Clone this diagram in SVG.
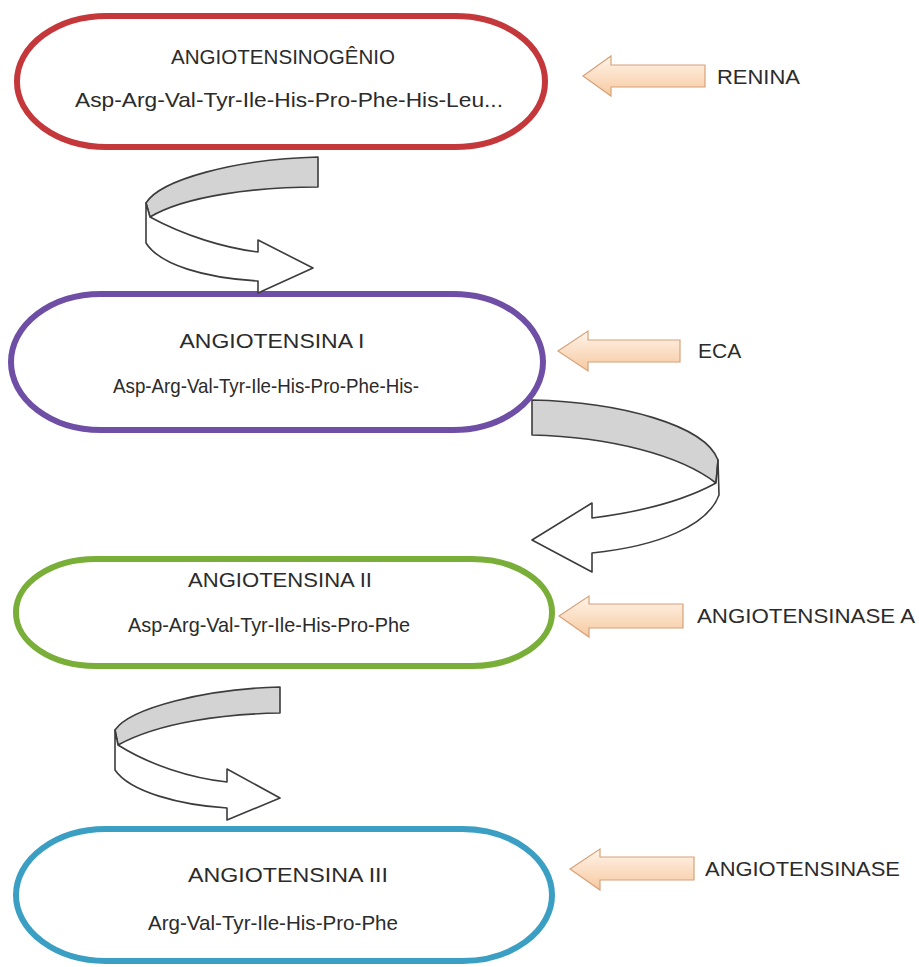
<svg xmlns="http://www.w3.org/2000/svg" width="919" height="967" viewBox="0 0 919 967">
<defs>
<linearGradient id="og" x1="0" y1="0" x2="0" y2="1">
<stop offset="0" stop-color="#fff4ea"/>
<stop offset="1" stop-color="#f7c9a0"/>
</linearGradient>
<style>
.pill{fill:#fff;stroke-width:6}
.t{font-family:"Liberation Sans",Arial,sans-serif;font-size:21px;fill:#2b2b2b;text-anchor:middle}
.lab{font-family:"Liberation Sans",Arial,sans-serif;font-size:21px;fill:#2b2b2b}
.oa{fill:url(#og);stroke:#d6a27a;stroke-width:1.2}
.gray{fill:#d3d3d3;stroke:#3c3c3c;stroke-width:1.6;stroke-linejoin:round}
.wht{fill:#fff;stroke:#3c3c3c;stroke-width:1.6;stroke-linejoin:round}
</style>
</defs>
<rect width="919" height="967" fill="#fff"/>

<g id="node-angiotensinogenio">
<rect class="pill" x="17" y="16" width="528" height="131" rx="90" ry="65" stroke="#c4373b"/>
<text class="t" x="283" y="64" textLength="224" lengthAdjust="spacingAndGlyphs">ANGIOTENSINOGÊNIO</text>
<text class="t" x="289" y="107" textLength="428" lengthAdjust="spacingAndGlyphs">Asp-Arg-Val-Tyr-Ile-His-Pro-Phe-His-Leu...</text>
</g>

<g id="node-angiotensina-1">
<rect class="pill" x="11" y="294" width="532" height="136" rx="90" ry="68" stroke="#6e4fa5"/>
<text class="t" x="272" y="348" textLength="185" lengthAdjust="spacingAndGlyphs">ANGIOTENSINA I</text>
<text class="t" x="266" y="393" textLength="306" lengthAdjust="spacingAndGlyphs">Asp-Arg-Val-Tyr-Ile-His-Pro-Phe-His-</text>
</g>

<g id="node-angiotensina-2">
<rect class="pill" x="16" y="559" width="536" height="107" rx="80" ry="53" stroke="#79ae38"/>
<text class="t" x="280" y="587" textLength="184" lengthAdjust="spacingAndGlyphs">ANGIOTENSINA II</text>
<text class="t" x="269" y="632" textLength="282" lengthAdjust="spacingAndGlyphs">Asp-Arg-Val-Tyr-Ile-His-Pro-Phe</text>
</g>

<g id="node-angiotensina-3">
<rect class="pill" x="16" y="829" width="536" height="132" rx="90" ry="66" stroke="#3a9fc3"/>
<text class="t" x="288" y="882" textLength="200" lengthAdjust="spacingAndGlyphs">ANGIOTENSINA III</text>
<text class="t" x="273" y="930" textLength="250" lengthAdjust="spacingAndGlyphs">Arg-Val-Tyr-Ile-His-Pro-Phe</text>
</g>

<g id="enzyme-renina">
<path class="oa" d="M583,76 L611,56 L611,65 L705,65 L705,87 L611,87 L611,96 Z"/>
<text class="lab" x="717" y="84" textLength="83" lengthAdjust="spacingAndGlyphs">RENINA</text>
</g>
<g id="enzyme-eca">
<path class="oa" d="M558,351 L588,331 L588,340 L680,340 L680,362 L588,362 L588,371 Z"/>
<text class="lab" x="698" y="358">ECA</text>
</g>
<g id="enzyme-angiotensinase-a">
<path class="oa" d="M559,616 L589,596 L589,604 L683,604 L683,628 L589,628 L589,637 Z"/>
<text class="lab" x="697" y="623" textLength="218" lengthAdjust="spacingAndGlyphs">ANGIOTENSINASE A</text>
</g>
<g id="enzyme-angiotensinase">
<path class="oa" d="M570,869 L600,849 L600,857 L694,857 L694,880 L600,880 L600,890 Z"/>
<text class="lab" x="705" y="876" textLength="195" lengthAdjust="spacingAndGlyphs">ANGIOTENSINASE</text>
</g>

<g id="connectors">
<path class="gray" d="M318,157 L318,187 C255,187 185,196 150,217 L146,203 C160,180 235,159 318,157 Z"/>
<path class="wht" d="M146,203 L150,217 C185,236 225,248 258,252 L258,240 L313,268 L258,293 L258,281 C205,278 160,265 146,243 Z"/>

<path class="gray" d="M532,400 L532,435 C610,437 680,455 716,483 L718,460 C705,425 620,402 532,400 Z"/>
<path class="wht" d="M716,483 C685,500 640,512 592,518 L592,503 L532,540 L592,572 L592,553 C660,546 708,525 719,495 L718,460 Z"/>

<path class="gray" d="M280,687 L280,713 C225,714 160,722 118,745 L115,730 C130,708 205,689 280,687 Z"/>
<path class="wht" d="M115,730 L118,745 C150,765 190,778 227,782 L227,769 L280,798 L227,820 L227,808 C180,805 130,792 115,770 Z"/>
</g>
</svg>
